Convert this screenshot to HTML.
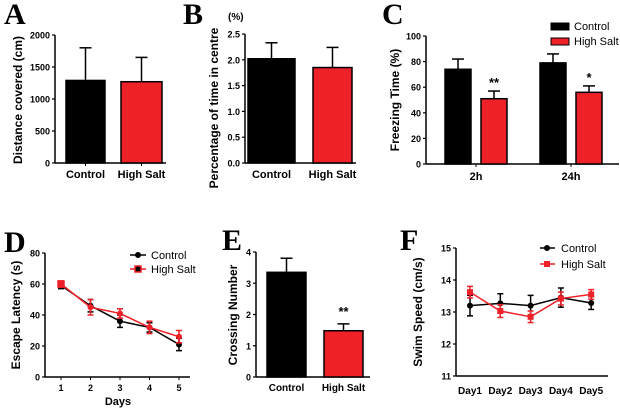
<!DOCTYPE html>
<html><head><meta charset="utf-8"><style>
body{margin:0;background:#fff}
svg{display:block;font-family:"Liberation Sans",Arial,sans-serif}
.lt{font-family:"Liberation Serif",serif;font-size:30px;font-weight:bold}
</style></head><body>
<svg id="fig" width="620" height="411" viewBox="0 0 620 411"></svg>
<script>
// Panel A
const aCats=["Control","High Salt"], aVals=[1290,1270], aErr=[510,380], aTicks=[0,500,1000,1500,2000];
// Panel B
const bCats=["Control","High Salt"], bVals=[2.02,1.85], bErr=[0.31,0.39], bTicks=["0.0","0.5","1.0","1.5","2.0","2.5"];
// Panel C
const cGroups=["2h","24h"], cCtrl=[74,79], cCtrlErr=[8,7], cHS=[51,56], cHSErr=[6,5], cStars=["**","*"], cTicks=[0,20,40,60,80,100];
// Panel D
const dDays=[1,2,3,4,5], dCtrl=[59,46,36,32,21], dCtrlErr=[2,4,4,3,4], dHS=[60,45,41,32,26], dHSErr=[2,5,3,4,4], dTicks=[0,20,40,60,80];
// Panel E
const eCats=["Control","High Salt"], eVals=[3.35,1.48], eErr=[0.45,0.22], eTicks=[0,1,2,3,4];
// Panel F
const fDays=["Day1","Day2","Day3","Day4","Day5"], fCtrl=[13.2,13.27,13.2,13.45,13.28], fCtrlErr=[0.32,0.3,0.32,0.3,0.2], fHS=[13.62,13.03,12.85,13.42,13.55], fHSErr=[0.18,0.2,0.18,0.2,0.15], fTicks=[11,12,13,14,15];

const S=document.getElementById('fig'),NS='http://www.w3.org/2000/svg';
function el(t,a,p){const e=document.createElementNS(NS,t);for(const k in a)e.setAttribute(k,a[k]);(p||S).appendChild(e);return e;}
function tx(s,x,y,a,p){const e=el('text',Object.assign({x:x,y:y},a),p);e.textContent=s;return e;}
function lin(y0v,y1v,p0,p1){return v=>p0+(v-y0v)*(p1-p0)/(y1v-y0v);}
const RED='#ee2128';
function yaxis(g,x,yT,yB,ticks,sc,title,tx0,ty){
 el('line',{x1:x,y1:yT,x2:x,y2:yB,stroke:'#000','stroke-width':1.5},g);
 ticks.forEach(t=>{const y=sc(+t);el('line',{x1:x-3,y1:y,x2:x,y2:y,stroke:'#000','stroke-width':1.2},g);
  tx(String(t),x-5,y+3.5,{'font-size':9,'font-weight':'bold','text-anchor':'end'},g);});
 const t=tx(title,0,0,{'font-size':12,'font-weight':'bold','text-anchor':'middle',transform:`translate(${tx0},${ty}) rotate(-90)`},g);
 
}
function bar(g,x0,x1,yTop,yBase,col,yErr,name){
 const r=el('rect',{x:x0,y:yTop,width:x1-x0,height:yBase-yTop,fill:col,stroke:'#000','stroke-width':1.5},g);
 
 const cx=(x0+x1)/2;el('line',{x1:cx,y1:yTop,x2:cx,y2:yErr,stroke:'#000','stroke-width':1.5},g);
 el('line',{x1:cx-6,y1:yErr,x2:cx+6,y2:yErr,stroke:'#000','stroke-width':1.5},g);
}
function panel(n){const g=el('g',{});return g;}

// A
{const g=panel('a');const sc=lin(0,2000,163,35);
 tx('A',4,24,{class:'lt'},g);
 yaxis(g,55,35,163,aTicks,sc,'Distance covered (cm)',22,100);
 el('line',{x1:55,y1:163,x2:166,y2:163,stroke:'#000','stroke-width':1.5},g);
 const xs=[[66,105],[121,162]];
 aVals.forEach((v,i)=>{bar(g,xs[i][0],xs[i][1],sc(v),163,i?RED:'#000',sc(v+aErr[i]),'bar-'+i);
  el('line',{x1:(xs[i][0]+xs[i][1])/2,y1:163,x2:(xs[i][0]+xs[i][1])/2,y2:166,stroke:'#000'},g);
  tx(aCats[i],(xs[i][0]+xs[i][1])/2,178,{'font-size':11,'font-weight':'bold','text-anchor':'middle'},g);});}
// B
{const g=panel('b');const sc=lin(0,2.5,163,34);
 tx('B',183,24,{class:'lt'},g);
 tx('(%)',228,20,{'font-size':10,'font-weight':'bold'},g);
 yaxis(g,245,34,163,bTicks,sc,'Percentage of time in centre',218,108);
 el('line',{x1:245,y1:163,x2:356,y2:163,stroke:'#000','stroke-width':1.5},g);
 const xs=[[248,295],[313,352]];
 bVals.forEach((v,i)=>{bar(g,xs[i][0],xs[i][1],sc(v),163,i?RED:'#000',sc(v+bErr[i]),'bar-'+i);
  tx(bCats[i],(xs[i][0]+xs[i][1])/2,178,{'font-size':11,'font-weight':'bold','text-anchor':'middle'},g);});}
// C
{const g=panel('c');const sc=lin(0,100,164,36);
 tx('C',382,24,{class:'lt'},g);
 yaxis(g,426,36,164,cTicks,sc,'Freezing Time (%)',399,100);
 el('line',{x1:426,y1:164,x2:619,y2:164,stroke:'#000','stroke-width':1.5},g);
 const gx=[445,540],bw=26;
 cGroups.forEach((n,i)=>{const x=gx[i];
  bar(g,x,x+bw,sc(cCtrl[i]),164,'#000',sc(cCtrl[i]+cCtrlErr[i]),'bar-control-'+n);
  bar(g,x+36,x+36+bw,sc(cHS[i]),164,RED,sc(cHS[i]+cHSErr[i]),'bar-highsalt-'+n);
  tx(cStars[i],x+36+bw/2,sc(cHS[i]+cHSErr[i])-4,{'font-size':13,'font-weight':'bold','text-anchor':'middle'},g);
  el('line',{x1:x+31,y1:164,x2:x+31,y2:167,stroke:'#000'},g);
  tx(n,x+31,180,{'font-size':11,'font-weight':'bold','text-anchor':'middle'},g);});
 const lg=el('g',{},g);
 el('rect',{x:551,y:23,width:18,height:7,fill:'#000',stroke:'#000'},lg);tx('Control',574,30,{'font-size':11},lg);
 el('rect',{x:551,y:38,width:18,height:7,fill:RED,stroke:'#000'},lg);tx('High Salt',574,45,{'font-size':11},lg);}
function lineSeries(g,xs,vals,errs,sc,col,square,name){
 const pts=vals.map((v,i)=>[xs[i],sc(v)]);
 const p=el('polyline',{points:pts.map(q=>q.join(',')).join(' '),fill:'none',stroke:col,'stroke-width':1.5},g);
 
 vals.forEach((v,i)=>{const x=xs[i],t=sc(v+errs[i]),b=sc(v-errs[i]);
  el('line',{x1:x,y1:t,x2:x,y2:b,stroke:col,'stroke-width':1.5},g);
  el('line',{x1:x-3,y1:t,x2:x+3,y2:t,stroke:col,'stroke-width':1.5},g);
  el('line',{x1:x-3,y1:b,x2:x+3,y2:b,stroke:col,'stroke-width':1.5},g);
  const m=square?el('rect',{x:x-3,y:sc(v)-3,width:6,height:6,fill:col},g):el('circle',{cx:x,cy:sc(v),r:3,fill:col},g);
  });
}
// D
{const g=panel('d');const sc=lin(0,80,377,253);const xs=dDays.map(d=>61+(d-1)*29.5);
 tx('D',4,252,{class:'lt'},g);
 yaxis(g,45,253,377,dTicks,sc,'Escape Latency (s)',20,315);
 el('line',{x1:45,y1:377,x2:190,y2:377,stroke:'#000','stroke-width':1.5},g);
 dDays.forEach((d,i)=>{el('line',{x1:xs[i],y1:377,x2:xs[i],y2:380,stroke:'#000'},g);
  tx(String(d),xs[i],391,{'font-size':9,'font-weight':'bold','text-anchor':'middle'},g);});
 tx('Days',118,405,{'font-size':11,'font-weight':'bold','text-anchor':'middle'},g);
 lineSeries(g,xs,dCtrl,dCtrlErr,sc,'#000',false,'control');
 lineSeries(g,xs,dHS,dHSErr,sc,RED,false,'high-salt');
 el('rect',{x:xs[0]-3,y:sc(dHS[0])-3,width:6,height:6,fill:'none',stroke:RED,'stroke-width':1.5},g);
 const lg=el('g',{},g);
 el('line',{x1:130,y1:255,x2:146,y2:255,stroke:'#000','stroke-width':1.5},lg);el('circle',{cx:138,cy:255,r:3},lg);tx('Control',151,259,{'font-size':11},lg);
 el('line',{x1:130,y1:269,x2:146,y2:269,stroke:RED,'stroke-width':1.5},lg);el('rect',{x:135,y:266,width:6,height:6,fill:'#000',stroke:RED,'stroke-width':1.5},lg);tx('High Salt',151,273,{'font-size':11},lg);}
// E
{const g=panel('e');const sc=lin(0,4,377,252);
 tx('E',222,250,{class:'lt'},g);
 yaxis(g,256,252,377,eTicks,sc,'Crossing Number',237,315);
 el('line',{x1:256,y1:377,x2:370,y2:377,stroke:'#000','stroke-width':1.5},g);
 const xs=[[267,306],[324,363]];
 eVals.forEach((v,i)=>{bar(g,xs[i][0],xs[i][1],sc(v),377,i?RED:'#000',sc(v+eErr[i]),'bar-'+i);
  tx(eCats[i],(xs[i][0]+xs[i][1])/2,391,{'font-size':10,'font-weight':'bold','text-anchor':'middle'},g);});
 tx('**',(xs[1][0]+xs[1][1])/2,sc(eVals[1]+eErr[1])-8,{'font-size':13,'font-weight':'bold','text-anchor':'middle'},g);}
// F
{const g=panel('f');const sc=lin(11,15,376,248);const xs=fDays.map((d,i)=>470+i*30.3);
 tx('F',400,250,{class:'lt'},g);
 yaxis(g,456,248,376,fTicks,sc,'Swim Speed (cm/s)',422,312);
 el('line',{x1:456,y1:376,x2:608,y2:376,stroke:'#000','stroke-width':1.5},g);
 fDays.forEach((d,i)=>tx(d,xs[i],394,{'font-size':10,'font-weight':'bold','text-anchor':'middle'},g));
 lineSeries(g,xs,fCtrl,fCtrlErr,sc,'#000',false,'control');
 lineSeries(g,xs,fHS,fHSErr,sc,RED,true,'high-salt');
 const lg=el('g',{},g);
 el('line',{x1:540,y1:248,x2:555,y2:248,stroke:'#000','stroke-width':1.5},lg);el('circle',{cx:547,cy:248,r:3},lg);tx('Control',561,252,{'font-size':11},lg);
 el('line',{x1:540,y1:264,x2:555,y2:264,stroke:RED,'stroke-width':1.5},lg);el('rect',{x:544,y:261,width:6,height:6,fill:RED},lg);tx('High Salt',561,268,{'font-size':11},lg);}
</script>
</body></html>
